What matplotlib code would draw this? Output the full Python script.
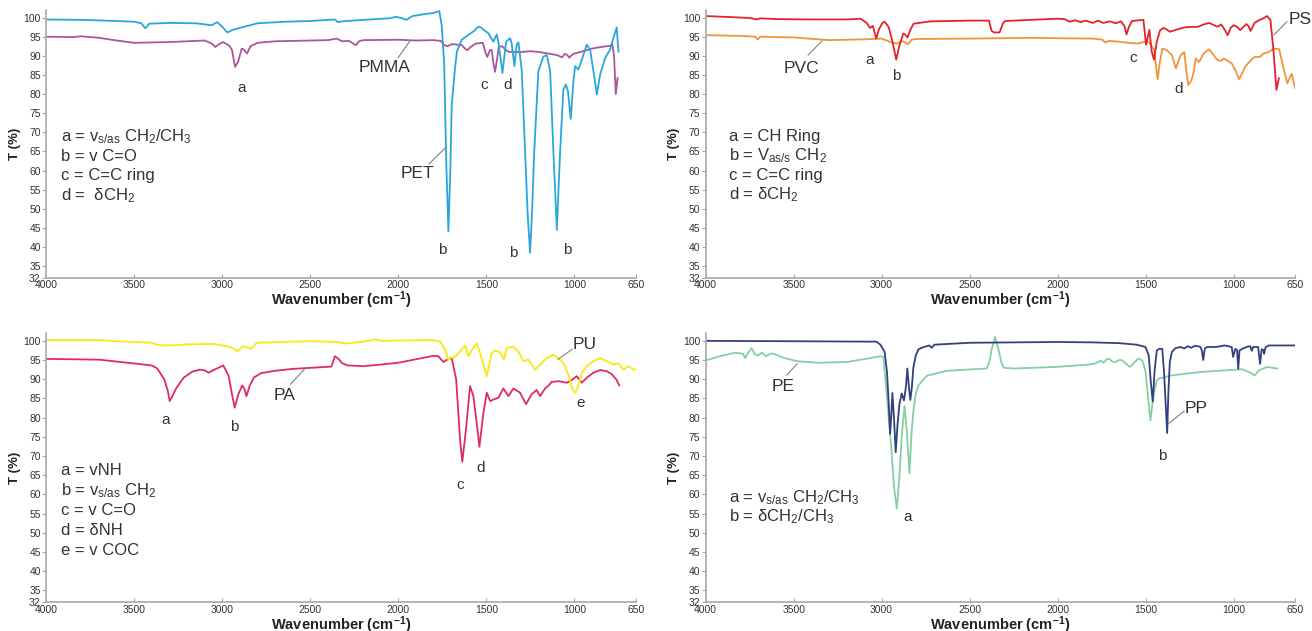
import matplotlib
matplotlib.use("Agg")
import matplotlib.pyplot as plt

plt.rcParams['font.family'] = ['Liberation Sans', 'DejaVu Sans']
plt.rcParams['mathtext.fontset'] = 'custom'
plt.rcParams['mathtext.rm'] = 'Liberation Sans'
plt.rcParams['mathtext.it'] = 'Liberation Sans:italic'
plt.rcParams['mathtext.bf'] = 'Liberation Sans:bold'
plt.rcParams['mathtext.default'] = 'regular'

# ---------------- data (wavenumber cm-1, transmittance %) ----------------
PET = [(4000, 99.5), (3800, 99.4), (3600, 99.1), (3500, 98.9), (3460, 98.5), (3438, 97.2), (3415, 98.4),
       (3300, 98.6), (3150, 98.5), (3060, 98.0), (3030, 98.8), (3005, 97.8), (2971, 96.1), (2940, 96.8),
       (2900, 97.3), (2800, 98.5), (2650, 98.9), (2500, 99.1), (2360, 99.5), (2345, 98.8), (2320, 99.0),
       (2200, 99.4), (2050, 99.8), (2014, 100.2), (1985, 99.9), (1954, 99.4), (1920, 100.4), (1850, 100.9),
       (1800, 101.2), (1768, 101.7), (1754, 98.0), (1740, 88.0), (1728, 62.0), (1716, 44.1), (1705, 60.0),
       (1697, 77.3), (1680, 86.0), (1668, 91.1), (1640, 94.2), (1602, 95.5), (1570, 96.5), (1546, 97.6),
       (1530, 97.4), (1517, 96.8), (1489, 95.9), (1461, 93.7), (1441, 95.6), (1430, 93.0), (1409, 85.5),
       (1395, 91.0), (1388, 93.7), (1366, 94.6), (1357, 93.4), (1341, 87.3), (1328, 93.0), (1318, 93.5),
       (1299, 86.0), (1280, 64.4), (1265, 48.0), (1252, 38.5), (1240, 50.0), (1229, 64.4), (1205, 86.0),
       (1176, 89.8), (1157, 90.2), (1138, 86.0), (1119, 64.4), (1100, 44.5), (1082, 64.4), (1063, 81.2),
       (1048, 82.5), (1037, 80.8), (1021, 73.5), (1006, 83.4), (996, 87.3), (978, 86.4), (955, 89.4),
       (930, 92.9), (911, 91.6), (892, 86.0), (873, 79.9), (854, 85.1), (826, 89.4), (798, 91.6),
       (779, 94.6), (760, 97.4), (750, 91.1)]

PMMA = [(4000, 95.0), (3850, 94.9), (3800, 95.1), (3700, 94.7), (3600, 94.0), (3500, 93.4), (3300, 93.6),
        (3100, 94.0), (3060, 93.2), (3040, 92.3), (3020, 93.0), (2995, 93.6), (2960, 92.6), (2945, 91.5),
        (2928, 87.1), (2910, 88.5), (2890, 91.9), (2875, 91.5), (2860, 90.6), (2840, 92.5), (2800, 93.4),
        (2700, 93.8), (2400, 94.1), (2350, 94.5), (2320, 93.8), (2280, 93.9), (2250, 93.0), (2240, 92.8),
        (2225, 93.8), (2200, 94.1), (2000, 94.2), (1900, 94.0), (1800, 94.1), (1760, 93.9), (1740, 92.8),
        (1720, 92.5), (1700, 93.0), (1680, 93.0), (1640, 92.8), (1620, 91.8), (1607, 91.5), (1590, 92.3),
        (1560, 93.2), (1520, 93.4), (1505, 90.8), (1495, 89.7), (1480, 91.5), (1470, 91.5), (1460, 88.0),
        (1451, 85.8), (1440, 89.0), (1430, 92.3), (1410, 92.5), (1390, 91.5), (1370, 91.0), (1300, 91.0),
        (1250, 91.2), (1200, 91.0), (1150, 90.6), (1100, 90.2), (1070, 89.6), (1055, 90.5), (1040, 90.2),
        (1030, 89.5), (1015, 90.2), (1000, 90.6), (950, 91.2), (900, 91.9), (850, 92.3), (800, 92.6),
        (785, 93.0), (775, 90.0), (765, 80.0), (755, 84.2)]

PS = [(4000, 100.4), (3900, 100.2), (3750, 99.9), (3710, 99.5), (3690, 99.8), (3600, 99.6), (3400, 99.5),
      (3200, 99.5), (3120, 99.7), (3085, 98.6), (3066, 97.3), (3050, 97.8), (3031, 94.5), (3015, 97.0),
      (2995, 98.6), (2983, 98.9), (2960, 97.5), (2940, 94.0), (2917, 89.0), (2900, 92.5), (2877, 95.8),
      (2865, 95.5), (2853, 94.8), (2835, 97.0), (2818, 98.4), (2723, 99.0), (2500, 99.2), (2390, 99.2),
      (2375, 96.5), (2360, 96.1), (2330, 96.1), (2310, 98.5), (2298, 99.1), (2150, 99.4), (2000, 99.7),
      (1960, 99.6), (1931, 98.9), (1900, 99.3), (1870, 98.8), (1840, 99.2), (1800, 98.6), (1770, 99.2),
      (1740, 98.6), (1700, 99.0), (1670, 98.5), (1640, 99.0), (1620, 97.8), (1608, 95.6), (1595, 97.5),
      (1577, 99.1), (1512, 99.4), (1497, 92.9), (1478, 96.8), (1465, 91.1), (1452, 89.0), (1436, 93.7),
      (1417, 96.7), (1398, 97.3), (1380, 96.9), (1361, 96.3), (1340, 96.6), (1305, 97.1), (1270, 97.5),
      (1200, 97.6), (1170, 98.2), (1139, 98.6), (1110, 98.0), (1092, 97.6), (1070, 98.2), (1050, 96.8),
      (1033, 95.4), (1015, 97.4), (998, 98.0), (980, 97.6), (962, 96.7), (945, 97.5), (927, 98.3),
      (915, 97.8), (903, 96.5), (880, 98.6), (856, 99.3), (830, 99.8), (809, 100.4), (790, 99.3),
      (773, 91.5), (756, 81.1), (742, 84.1)]

PVC = [(4000, 95.4), (3800, 95.2), (3720, 95.0), (3705, 94.3), (3690, 95.0), (3500, 94.8), (3300, 94.1),
       (3100, 94.3), (3000, 94.5), (2960, 93.8), (2940, 93.4), (2910, 93.2), (2890, 93.9), (2870, 93.6),
       (2850, 93.0), (2830, 94.2), (2800, 94.4), (2500, 94.5), (2150, 94.7), (2000, 94.6), (1800, 94.5),
       (1745, 94.2), (1730, 93.5), (1710, 93.9), (1650, 93.7), (1600, 93.4), (1550, 93.2), (1500, 93.7),
       (1480, 93.5), (1470, 92.8), (1450, 91.5), (1440, 87.0), (1431, 83.9), (1420, 88.0), (1404, 91.9),
       (1380, 91.5), (1350, 90.2), (1328, 86.7), (1300, 90.2), (1280, 91.0), (1268, 86.0), (1257, 82.4),
       (1240, 83.5), (1225, 86.0), (1215, 89.3), (1195, 88.4), (1170, 90.6), (1139, 91.7), (1110, 90.0),
       (1092, 88.9), (1070, 88.7), (1055, 89.3), (1040, 88.9), (1010, 88.0), (990, 86.3), (968, 83.9),
       (950, 85.5), (935, 87.1), (900, 88.9), (880, 89.7), (850, 89.7), (830, 90.6), (800, 91.0),
       (770, 91.9), (740, 91.7), (716, 86.8), (694, 82.8), (669, 85.3), (650, 81.6)]

PU = [(4000, 100.2), (3700, 100.2), (3600, 99.9), (3400, 99.5), (3354, 98.8), (3250, 98.9), (3200, 99.1),
      (3050, 99.2), (3000, 98.8), (2950, 98.3), (2911, 97.3), (2885, 98.6), (2863, 98.4), (2839, 97.9),
      (2804, 99.5), (2600, 99.8), (2500, 99.9), (2350, 99.7), (2300, 99.3), (2200, 99.8), (2134, 100.4),
      (2100, 100.0), (2000, 100.1), (1800, 100.2), (1763, 99.8), (1735, 97.7), (1716, 95.1), (1700, 95.8),
      (1688, 95.5), (1650, 97.2), (1621, 98.8), (1603, 96.0), (1584, 97.5), (1555, 99.4), (1536, 96.8),
      (1498, 90.8), (1470, 96.8), (1451, 97.5), (1422, 97.0), (1400, 95.1), (1385, 98.1), (1347, 98.5),
      (1318, 97.2), (1290, 94.7), (1261, 95.1), (1224, 92.5), (1195, 93.8), (1157, 95.5), (1120, 96.4),
      (1091, 95.5), (1063, 94.2), (1034, 91.2), (1015, 87.8), (996, 86.5), (978, 88.2), (958, 91.7),
      (930, 93.4), (892, 94.7), (854, 95.5), (816, 94.7), (779, 93.8), (750, 94.2), (722, 92.5),
      (693, 93.4), (665, 92.5), (650, 92.6)]

PA = [(4000, 95.3), (3700, 95.1), (3500, 94.1), (3400, 93.6), (3370, 92.8), (3330, 90.0), (3310, 87.0),
      (3299, 84.3), (3280, 86.0), (3260, 87.8), (3220, 90.4), (3170, 92.0), (3127, 92.5), (3100, 92.3),
      (3079, 91.7), (3040, 92.6), (2995, 93.6), (2965, 91.0), (2945, 86.0), (2930, 82.6), (2910, 86.0),
      (2887, 88.4), (2875, 87.5), (2863, 85.6), (2845, 88.3), (2820, 90.5), (2780, 91.6), (2700, 92.2),
      (2600, 92.7), (2450, 93.1), (2380, 93.3), (2361, 96.0), (2340, 95.3), (2320, 94.2), (2289, 93.6),
      (2200, 93.4), (2104, 93.8), (2000, 94.3), (1801, 96.1), (1773, 96.0), (1745, 94.5), (1716, 95.3),
      (1697, 95.5), (1672, 90.0), (1650, 74.5), (1637, 68.5), (1616, 77.0), (1593, 88.2), (1574, 85.6),
      (1551, 77.0), (1540, 72.4), (1517, 81.3), (1498, 86.5), (1479, 84.3), (1456, 84.8), (1432, 85.2),
      (1404, 87.6), (1375, 85.6), (1347, 87.6), (1309, 86.5), (1275, 83.5), (1243, 86.1), (1215, 87.2),
      (1195, 85.6), (1167, 87.6), (1148, 88.3), (1129, 89.3), (1091, 89.5), (1044, 89.1), (1015, 89.8),
      (987, 90.8), (958, 89.1), (930, 90.4), (892, 91.7), (854, 92.4), (816, 92.1), (788, 91.3),
      (763, 90.0), (745, 88.4)]

PP = [(4000, 100.0), (3500, 99.9), (3100, 99.8), (3031, 99.8), (3007, 99.0), (2983, 97.1), (2970, 92.0),
      (2960, 84.0), (2952, 75.8), (2946, 80.0), (2939, 86.4), (2930, 80.0), (2920, 71.0), (2910, 78.0),
      (2899, 83.5), (2886, 86.3), (2873, 84.5), (2862, 88.0), (2854, 92.8), (2845, 88.0), (2837, 84.6),
      (2828, 88.0), (2820, 93.0), (2806, 96.2), (2791, 97.8), (2760, 98.4), (2730, 98.8), (2715, 98.2),
      (2700, 99.0), (2500, 99.5), (2000, 99.7), (1800, 99.6), (1650, 99.4), (1550, 99.0), (1500, 98.4),
      (1482, 96.2), (1470, 89.3), (1459, 84.2), (1448, 92.5), (1436, 97.5), (1423, 97.9), (1405, 97.9),
      (1395, 92.0), (1386, 84.0), (1377, 76.0), (1370, 86.7), (1362, 94.5), (1350, 97.1), (1330, 98.1),
      (1300, 98.4), (1280, 98.0), (1260, 98.6), (1240, 98.2), (1220, 98.7), (1190, 98.5), (1180, 97.5),
      (1172, 95.0), (1163, 98.0), (1150, 98.4), (1100, 98.4), (1050, 98.8), (1010, 98.4), (1002, 95.8),
      (990, 97.9), (980, 97.6), (973, 92.7), (966, 97.5), (950, 97.9), (920, 98.5), (905, 98.6),
      (896, 97.4), (888, 98.4), (860, 98.4), (849, 94.0), (840, 97.8), (830, 97.6), (826, 96.6),
      (818, 98.3), (800, 98.8), (650, 98.8)]

PE = [(4000, 94.9), (3920, 96.0), (3834, 96.9), (3800, 96.7), (3787, 96.6), (3776, 95.5), (3760, 96.8),
      (3740, 98.1), (3720, 96.5), (3704, 96.2), (3681, 96.9), (3657, 96.0), (3630, 96.7), (3610, 96.6),
      (3580, 96.0), (3551, 95.5), (3480, 94.7), (3362, 94.3), (3196, 94.5), (3078, 95.4), (3007, 96.0),
      (2990, 95.8), (2971, 86.0), (2945, 72.0), (2930, 62.0), (2914, 56.3), (2900, 64.0), (2886, 75.0),
      (2870, 83.0), (2856, 76.0), (2842, 65.5), (2830, 76.0), (2819, 82.0), (2805, 86.5), (2791, 88.4),
      (2743, 90.9), (2630, 92.2), (2403, 92.8), (2385, 95.0), (2375, 97.8), (2355, 101.0), (2336, 97.8),
      (2320, 94.5), (2307, 93.0), (2250, 92.8), (2014, 93.2), (1825, 93.8), (1780, 94.2), (1754, 94.9),
      (1740, 94.3), (1720, 95.2), (1707, 95.4), (1690, 94.6), (1672, 94.5), (1650, 95.0), (1636, 95.0),
      (1610, 94.0), (1589, 93.2), (1560, 94.5), (1541, 95.4), (1518, 94.9), (1500, 92.0), (1485, 85.0),
      (1472, 79.3), (1460, 84.0), (1447, 87.6), (1436, 89.7), (1423, 90.2), (1352, 91.0), (1187, 91.9),
      (950, 92.6), (903, 91.7), (880, 91.0), (856, 92.3), (809, 93.2), (750, 92.8)]

X_TICKS = [4000, 3500, 3000, 2500, 2000, 1500, 1000, 650]
Y_TICKS = [32, 35, 40, 45, 50, 55, 60, 65, 70, 75, 80, 85, 90, 95, 100]

COLORS = {'PET': '#2aa6dd', 'PMMA': '#a8579b', 'PS': '#e3222b', 'PVC': '#f4923a',
          'PU': '#f7ea10', 'PA': '#e02a63', 'PP': '#33407f', 'PE': '#86cfa3'}

# ---------------- figure ----------------
fig = plt.figure(figsize=(13.12, 6.31), dpi=100)

positions = [
    [0.0353, 0.5599, 0.4495, 0.4244],
    [0.5379, 0.5599, 0.4492, 0.4244],
    [0.0353, 0.0460, 0.4495, 0.4260],
    [0.5379, 0.0460, 0.4492, 0.4260],
]
axes = [fig.add_axes(p) for p in positions]

for ax in axes:
    ax.set_xlim(4000, 650)
    ax.set_ylim(32, 102)
    ax.set_xticks(X_TICKS)
    ax.set_yticks(Y_TICKS)
    for s in ['top', 'right']:
        ax.spines[s].set_visible(False)
    for s in ['left', 'bottom']:
        ax.spines[s].set_color('#a8a8a8')
        ax.spines[s].set_linewidth(1.2)
    ax.tick_params(axis='both', labelsize=7.5, colors='#a8a8a8', labelcolor='#333333',
                   length=3, width=0.8, pad=1)
    ax.tick_params(axis='x', direction='in', pad=2)
    ax.set_xlabel('Wavenumber (cm$^{\\mathbf{-1}}$)', fontsize=10.5, fontweight='bold',
                  labelpad=-0.5, color='#222222')
    ax.set_ylabel('T (%)', fontsize=9.5, fontweight='bold', labelpad=2, color='#222222')
    ax.patch.set_alpha(0)


def plot_series(ax, data, name):
    wn = [p[0] for p in data]
    t = [p[1] for p in data]
    ax.plot(wn, t, color=COLORS[name], lw=1.3, solid_joinstyle='round')


def leader(ax, p0, p1):
    ax.plot([p0[0], p1[0]], [p0[1], p1[1]], color='#808080', lw=0.8)


TXT = dict(fontsize=12, color='#333333')
LAB = dict(fontsize=11, color='#333333', ha='center', va='center')
NAME = dict(ha='center', va='center', fontsize=12.5, color='#333333')

# ---- top-left: PET / PMMA ----
ax = axes[0]
plot_series(ax, PMMA, 'PMMA')
plot_series(ax, PET, 'PET')
ax.text(2077, 86.9, 'PMMA', **NAME)
leader(ax, (2002, 89.5), (1934, 93.9))
ax.text(1894, 59.2, 'PET', **NAME)
leader(ax, (1825, 61.8), (1732, 66.0))
ax.text(2888, 81.7, 'a', **LAB)
ax.text(1514, 82.3, 'c', **LAB)
ax.text(1378, 82.3, 'd', **LAB)
for wn_, t_ in [(1752, 39.3), (1349, 38.5), (1042, 39.3)]:
    ax.text(wn_, t_, 'b', **LAB)
lines_tl = [r'a = v$_{\rm s/as}$ CH$_2$/CH$_3$', 'b = v C=O', 'c = C=C ring', r'd =  δCH$_2$']
for i, s in enumerate(lines_tl):
    ax.text(3916, 68.8 - i * 5.1, s, ha='left', va='center', **TXT)

# ---- top-right: PS / PVC ----
ax = axes[1]
plot_series(ax, PVC, 'PVC')
plot_series(ax, PS, 'PS')
ax.text(688, 99.6, 'PS', ha='left', va='center', fontsize=12.5, color='#333333', clip_on=False)
leader(ax, (697, 98.9), (769, 95.5))
ax.text(3458, 86.7, 'PVC', **NAME)
leader(ax, (3418, 90.2), (3339, 93.9))
ax.text(3066, 89.0, 'a', **LAB)
ax.text(2918, 84.8, 'b', **LAB)
ax.text(1570, 89.5, 'c', **LAB)
ax.text(1314, 81.2, 'd', **LAB)
lines_tr = ['a = CH Ring', r'b = V$_{\rm as/s}$ CH$_2$', 'c = C=C ring', r'd = δCH$_2$']
for i, s in enumerate(lines_tr):
    ax.text(3868, 69.0 - i * 5.1, s, ha='left', va='center', **TXT)

# ---- bottom-left: PU / PA ----
ax = axes[2]
plot_series(ax, PA, 'PA')
plot_series(ax, PU, 'PU')
ax.text(940, 99.1, 'PU', **NAME)
leader(ax, (1013, 97.8), (1093, 95.2))
ax.text(2649, 85.7, 'PA', **NAME)
leader(ax, (2613, 88.7), (2530, 92.8))
ax.text(3320, 79.4, 'a', **LAB)
ax.text(2934, 77.6, 'b', **LAB)
ax.text(1650, 62.5, 'c', **LAB)
ax.text(1531, 67.0, 'd', **LAB)
ax.text(963, 83.8, 'e', **LAB)
lines_bl = ['a = vNH', r'b = v$_{\rm s/as}$ CH$_2$', 'c = v C=O', 'd = δNH', 'e = v COC']
for i, s in enumerate(lines_bl):
    ax.text(3916, 66.3 - i * 5.25, s, ha='left', va='center', **TXT)

# ---- bottom-right: PP / PE ----
ax = axes[3]
plot_series(ax, PE, 'PE')
plot_series(ax, PP, 'PP')
ax.text(3562, 88.1, 'PE', **NAME)
leader(ax, (3539, 91.1), (3481, 94.0))
ax.text(1212, 82.3, 'PP', **NAME)
leader(ax, (1281, 81.7), (1370, 78.4))
ax.text(2850, 54.0, 'a', **LAB)
ax.text(1406, 70.0, 'b', **LAB)
lines_br = [r'a = v$_{\rm s/as}$ CH$_2$/CH$_3$', r'b = δCH$_2$/CH$_3$']
for i, s in enumerate(lines_br):
    ax.text(3870, 59.2 - i * 5.1, s, ha='left', va='center', **TXT)

fig.savefig('out.png', dpi=100)
